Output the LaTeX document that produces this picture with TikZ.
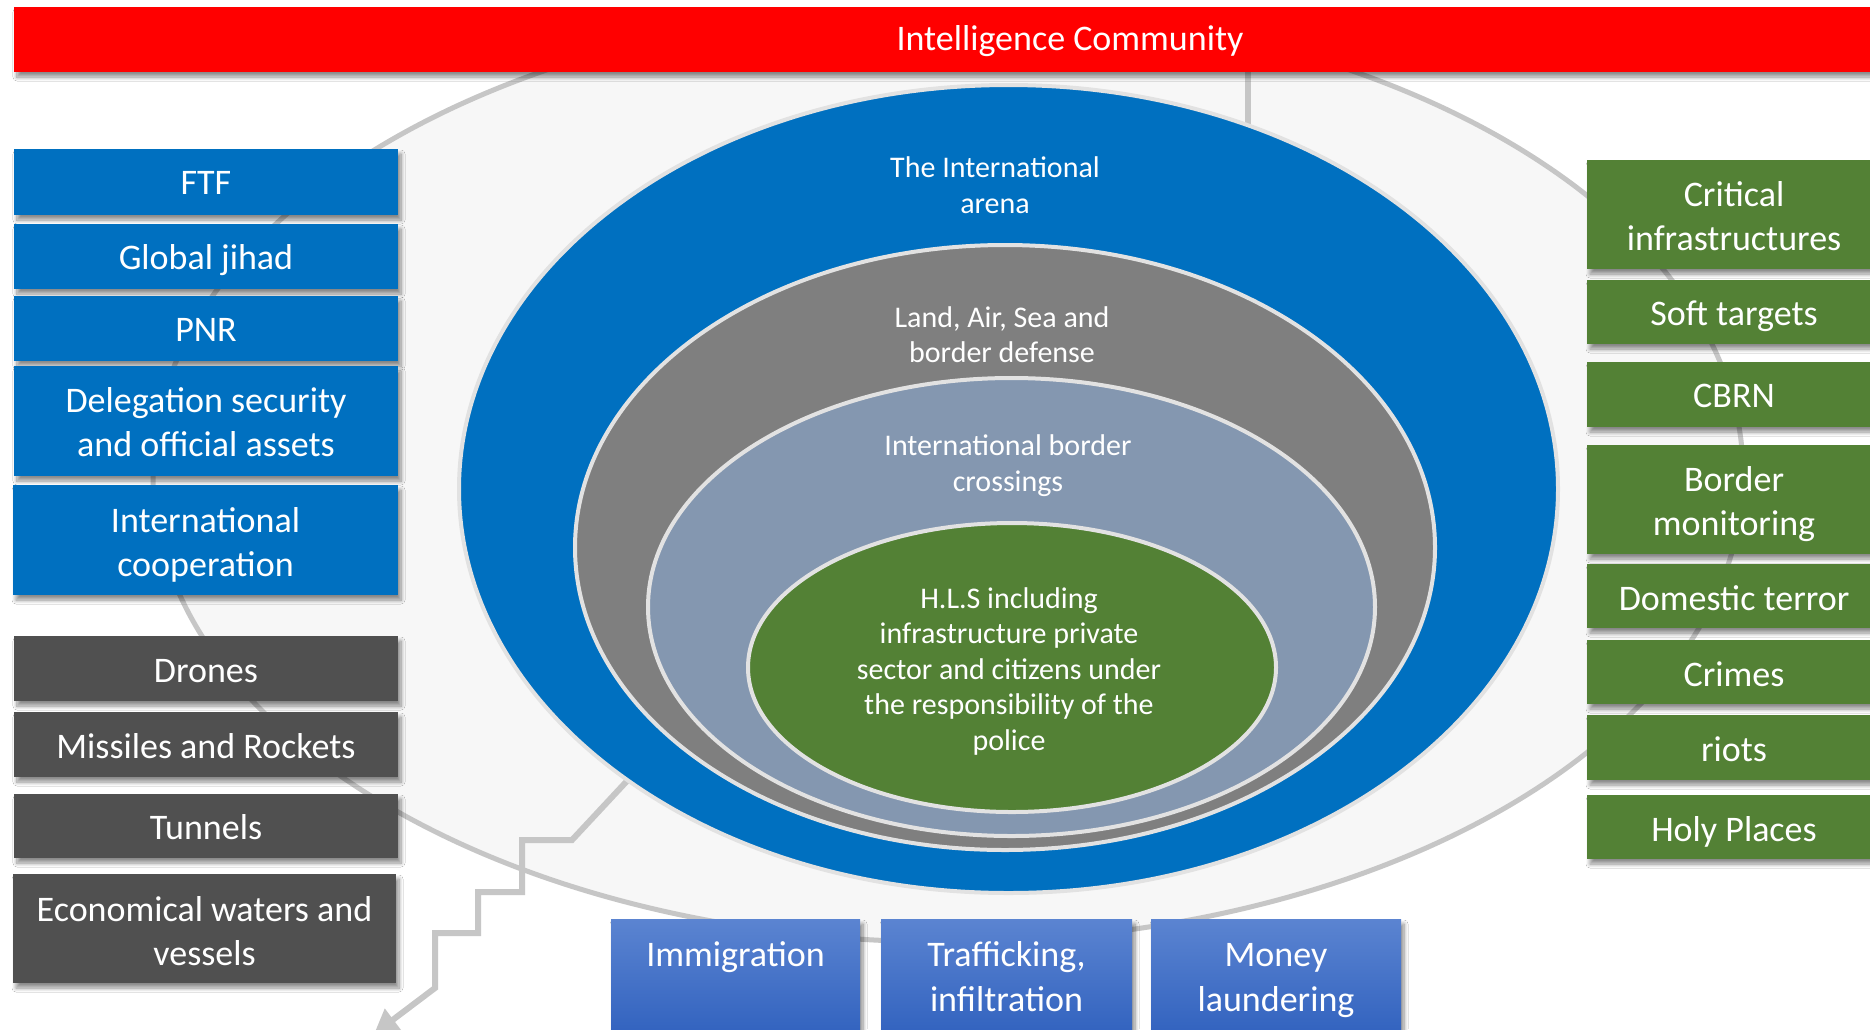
\documentclass[tikz,border=0pt]{standalone}
\usepackage{fontspec}
\setmainfont{Carlito}
\usetikzlibrary{shapes.geometric,shadows.blur,arrows.meta}
\definecolor{cred}{HTML}{FF0000}
\definecolor{cblue}{HTML}{0070C0}
\definecolor{cgray}{HTML}{7F7F7F}
\definecolor{clight}{HTML}{8497B0}
\definecolor{cgreen}{HTML}{538135}
\definecolor{cdark}{HTML}{505050}
\definecolor{cbtop}{HTML}{5B84D1}
\definecolor{cbbot}{HTML}{3061BE}
\definecolor{cbg}{HTML}{F7F7F7}
\definecolor{cline}{HTML}{C6C6C6}
\definecolor{cring}{HTML}{E2E2E2}
\begin{document}
\begin{tikzpicture}[x=1pt,y=-1pt,
  box/.style={rectangle, inner sep=0pt,
    blur shadow={shadow xshift=3pt, shadow yshift=-5pt, shadow blur steps=8, shadow blur radius=4pt, shadow opacity=45}},
  lbox/.style={box, fill=cblue, minimum width=384pt},
  dbox/.style={box, fill=cdark, minimum width=384pt},
  rbox/.style={box, fill=cgreen, minimum width=294pt},
  bbox/.style={box, top color=cbtop, bottom color=cbbot, minimum height=121pt},
  lbl/.style={text=white, align=center, inner sep=0pt, font=\fontsize{36}{44}\selectfont},
  btxt/.style={text=white, align=center, inner sep=0pt, font=\fontsize{36}{45}\selectfont},
  ring/.style={ellipse, inner sep=0pt, draw=cring, line width=4pt},
  etxt/.style={text=white, align=center, inner sep=0pt, font=\fontsize{30}{35.5}\selectfont},
  conn/.style={draw=cline, line width=6pt},
]
\useasboundingbox[fill=white] (0,0) rectangle (1870,1029);

% background ellipse
\begin{scope}
\clip (0,7) rectangle (1870,1029);
\node[ellipse, inner sep=0pt, minimum width=1590pt, minimum height=936pt, fill=cbg, draw=cline, line width=5pt] (bgE) at (948,474) {};
\end{scope}

% faint connectors
\coordinate (vtop) at (1248,72);
\coordinate (vbot) at (1248,150);
\draw[conn] (vtop) -- (vbot);
\coordinate (s0) at (640,767);
\coordinate (s9) at (374,1034);
\draw[conn, -{Triangle[length=24pt,width=26pt]}] (s0) -- (572,840) -- (522,840) -- (522,892) -- (478,892) -- (478,933) -- (435,933) -- (435,988) -- (s9);

% nested ellipses
\node[ring, fill=cblue, minimum width=1099pt, minimum height=808pt] (blueE) at (1008.5,489) {};
\node[ring, fill=cgray, minimum width=860pt, minimum height=605pt] (grayE) at (1005,547.5) {};
\node[ring, fill=clight, minimum width=727pt, minimum height=458pt] (lightE) at (1011.5,607) {};
\node[ring, fill=cgreen, minimum width=528pt, minimum height=289pt] (greenE) at (1012,667.5) {};

\node[etxt] (tBlue) at (995,185) {The International\\arena};
\node[etxt] (tGray) at (1002,334.5) {Land, Air, Sea and\\border defense};
\node[etxt] (tLight) at (1008,465.5) {International border\\crossings};
\node[etxt] (tGreen) at (1009,671) {H.L.S including\\infrastructure private\\sector and citizens under\\the responsibility of the\\police};

% top bar
\node[box, fill=cred, minimum width=2112pt, minimum height=65pt] (ic) at (1070,39.5) {};
\node[lbl] (icT) at ([yshift=-2pt]ic) {Intelligence Community};

% left column
\node[lbox, minimum height=66pt] (ftf) at (206,182) {};
\node[lbox, minimum height=65pt] (jihad) at (206,256.5) {};
\node[lbox, minimum height=65pt] (pnr) at (206,328.5) {};
\node[lbox, minimum height=110pt] (deleg) at (206,421) {};
\node[lbox, minimum height=110pt, minimum width=385pt] (coop) at (205.5,540) {};
\node[dbox, minimum height=65pt] (drones) at (206,668.5) {};
\node[dbox, minimum height=65pt] (missiles) at (206,744.5) {};
\node[dbox, minimum height=64pt] (tunnels) at (206,826) {};
\node[dbox, minimum height=109pt, minimum width=383pt] (econ) at (204.5,928.5) {};

\node[lbl] (ftfT) at ([yshift=-1pt]ftf) {FTF};
\node[lbl] (jihadT) at ([yshift=-4pt]jihad) {Global jihad};
\node[lbl] (pnrT) at ([yshift=-1pt]pnr) {PNR};
\node[lbl] (delegT) at ([yshift=-1.5pt]deleg) {Delegation security\\and official assets};
\node[lbl] (coopT) at ([yshift=-4.5pt]coop) {International\\cooperation};
\node[lbl] (dronesT) at ([yshift=-3pt]drones) {Drones};
\node[lbl] (missilesT) at ([yshift=-2pt]missiles) {Missiles and Rockets};
\node[lbl] (tunnelsT) at ([yshift=-1pt]tunnels) {Tunnels};
\node[lbl] (econT) at ([yshift=-3pt]econ) {Economical waters and\\vessels};

% right column
\node[rbox, minimum height=109pt] (crit) at (1734,214.5) {};
\node[rbox, minimum height=64pt] (soft) at (1734,312) {};
\node[rbox, minimum height=65pt] (cbrn) at (1734,394.5) {};
\node[rbox, minimum height=109pt] (bordm) at (1734,499.5) {};
\node[rbox, minimum height=64pt] (domestic) at (1734,596) {};
\node[rbox, minimum height=64pt] (crimes) at (1734,672) {};
\node[rbox, minimum height=65pt] (riots) at (1734,747.5) {};
\node[rbox, minimum height=64pt] (holy) at (1734,827) {};

\node[lbl] (critT) at ([yshift=-2pt]crit) {Critical\\infrastructures};
\node[lbl] (softT) at ([yshift=-4.5pt]soft) {Soft targets};
\node[lbl] (cbrnT) at ([yshift=-1pt]cbrn) {CBRN};
\node[lbl] (bordmT) at ([yshift=-4.5pt]bordm) {Border\\monitoring};
\node[lbl] (domesticT) at ([yshift=-2pt]domestic) {Domestic terror};
\node[lbl] (crimesT) at ([yshift=-2pt]crimes) {Crimes};
\node[lbl] (riotsT) at ([yshift=-2pt]riots) {riots};
\node[lbl] (holyT) at ([yshift=-4.5pt]holy) {Holy Places};

% bottom row
\node[bbox, minimum width=249pt] (immig) at (735.5,979.5) {};
\node[bbox, minimum width=251pt] (traff) at (1006.5,979.5) {};
\node[bbox, minimum width=250pt] (money) at (1276,979.5) {};
\node[btxt] (immigT) at (735.5,957.5) {Immigration};
\node[btxt] (traffT) at (1006.5,977) {Trafficking,\\infiltration};
\node[btxt] (moneyT) at (1276,980.5) {Money\\laundering};
\end{tikzpicture}
\end{document}
